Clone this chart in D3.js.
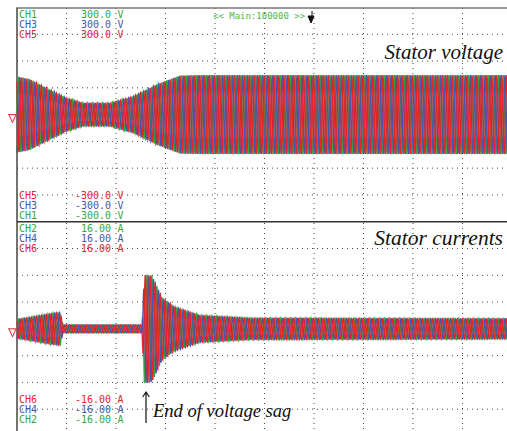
<!DOCTYPE html>
<html>
<head>
    <meta charset="UTF-8">
    <title>Stator voltage and currents</title>
    <script src="https://d3js.org/d3.v7.min.js"></script>
    <style>
        body { margin: 0; background: #fff; }
        .mono { font-family: "DejaVu Sans Mono", monospace; font-size: 10px; }
    </style>
</head>
<body>
    <div id="chart"></div>

    <script type="text/javascript">
        // time axis: 10 divisions, 2 s total (50 Hz grid)
        const timeRange = [0, 2];
        const carrierHz = 50;
        const voltRange = [-300, 300];
        const ampRange = [-16, 16];

        // envelope of the stator voltage (peak V)
        const voltEnvT = [0, 0.05, 0.133, 0.202, 0.267, 0.376, 0.469, 0.566, 0.606, 0.66, 0.74, 2.0];
        const voltEnvA = [107, 100, 70, 46, 32, 32, 51, 85, 96, 110, 111, 111];

        // envelope of the stator currents (peak A)
        const currEnvT = [0, 0.174, 0.186, 0.505, 0.515, 0.545, 0.586, 0.638, 0.739, 0.94, 2.0];
        const currEnvA = [1.4, 2.5, 0.6, 0.6, 8.1, 8.0, 4.7, 3.3, 2.0, 1.6, 1.5];

        // channel labels
        const voltChannels = ["CH1", "CH3", "CH5"];
        const currChannels = ["CH2", "CH4", "CH6"];
        const voltTopValues = ["300.0", "300.0", "300.0"];
        const voltBottomValues = ["-300.0", "-300.0", "-300.0"];
        const currTopValues = ["16.00", "16.00", "16.00"];
        const currBottomValues = ["-16.00", "-16.00", "-16.00"];
        const phaseShift = { CH1: 0, CH3: -2 * Math.PI / 3, CH5: 2 * Math.PI / 3,
                             CH2: 0, CH4: -2 * Math.PI / 3, CH6: 2 * Math.PI / 3 };

        const colors = { CH1: "#34a838", CH2: "#34a838", CH3: "#4656a8", CH4: "#4656a8",
                         CH5: "#e3242b", CH6: "#e3242b" };

        const serif = '"Liberation Serif", "Times New Roman", Times, serif';

        const W = 507, H = 431;
        const svg = d3.select("#chart").append("svg")
            .attr("width", W).attr("height", H);

        const x = d3.scaleLinear().domain(timeRange).range([17, 512]);
        const yV = d3.scaleLinear().domain(voltRange).range([221.7, 7.5]);
        const yI = d3.scaleLinear().domain(ampRange).range([436, 221.7]);

        // grid (dotted)
        const grid = svg.append("g").attr("stroke", "#444").attr("stroke-width", 1)
            .attr("stroke-dasharray", "1,4");
        x.ticks(10).slice(1).forEach(t => {
            grid.append("line").attr("x1", x(t)).attr("x2", x(t))
                .attr("y1", 8).attr("y2", H);
        });
        d3.range(-225, 300, 75).forEach(v => {
            grid.append("line").attr("x1", 17).attr("x2", W)
                .attr("y1", yV(v)).attr("y2", yV(v));
        });
        d3.range(-12, 16, 4).forEach(v => {
            grid.append("line").attr("x1", 17).attr("x2", W)
                .attr("y1", yI(v)).attr("y2", yI(v));
        });

        // frame
        svg.append("line").attr("x1", 17).attr("x2", W).attr("y1", 8).attr("y2", 8)
            .attr("stroke", "#777").attr("stroke-width", 1.5);
        svg.append("line").attr("x1", 17).attr("x2", 17).attr("y1", 7.5).attr("y2", H)
            .attr("stroke", "#444").attr("stroke-width", 1.5);
        svg.append("line").attr("x1", 17).attr("x2", W).attr("y1", 221.7).attr("y2", 221.7)
            .attr("stroke", "#333").attr("stroke-width", 1.5);

        // traces
        const voltEnv = d3.scaleLinear().domain(voltEnvT).range(voltEnvA).clamp(true);
        const currEnv = d3.scaleLinear().domain(currEnvT).range(currEnvA).clamp(true);
        const nSamples = 100 * 16;

        function trace(env, phase) {
            return d3.range(nSamples + 1).map(i => {
                const t = timeRange[0] + (timeRange[1] - timeRange[0]) * i / nSamples;
                return [t, env(t) * Math.sin(2 * Math.PI * carrierHz * t + phase)];
            });
        }

        const lineV = d3.line().x(d => x(d[0])).y(d => yV(d[1]));
        const lineI = d3.line().x(d => x(d[0])).y(d => yI(d[1]));

        const traces = svg.append("g").attr("fill", "none").attr("stroke-width", 1.4);
        voltChannels.forEach(ch => {
            traces.append("path").datum(trace(voltEnv, phaseShift[ch]))
                .attr("stroke", colors[ch]).attr("d", lineV);
        });
        currChannels.forEach(ch => {
            traces.append("path").datum(trace(currEnv, phaseShift[ch]))
                .attr("stroke", colors[ch]).attr("d", lineI);
        });

        // zero-level markers
        [yV(0), yI(0)].forEach(y0 => {
            svg.append("path")
                .attr("d", `M8,${y0}H17M9,${y0}L12.5,${y0 + 8}L16,${y0}`)
                .attr("fill", "none").attr("stroke", "#e3242b").attr("stroke-width", 1);
        });

        // channel labels
        function labelBlock(chs, vals, unit, yCenters) {
            chs.forEach((ch, i) => {
                const yb = yCenters[i] + 3.5;
                svg.append("text").attr("class", "mono").attr("x", 19).attr("y", yb)
                    .attr("fill", colors[ch]).text(ch);
                svg.append("text").attr("class", "mono").attr("x", 111).attr("y", yb)
                    .attr("text-anchor", "end").attr("fill", colors[ch]).text(vals[i]);
                svg.append("text").attr("class", "mono").attr("x", 117.5).attr("y", yb)
                    .attr("fill", colors[ch]).text(unit);
            });
        }
        labelBlock(voltChannels, voltTopValues, "V", [14, 24, 34]);
        labelBlock(voltChannels.slice().reverse(), voltBottomValues, "V", [195, 205, 215]);
        labelBlock(currChannels, currTopValues, "A", [228.8, 238.8, 248.8]);
        labelBlock(currChannels.slice().reverse(), currBottomValues, "A", [399.6, 409.6, 419.6]);

        // header
        svg.append("text").attr("class", "mono").style("font-size", "9px")
            .attr("x", 213).attr("y", 19).attr("fill", "#4cb84c")
            .text("<< Main:100000 >>");
        svg.append("path").attr("d", "M308,16L314,16L311,23Z M312,11V17")
            .attr("fill", "#111").attr("stroke", "#111").attr("stroke-width", 1);

        // titles
        function title(txt, xp, yp, anchor, size) {
            svg.append("text").attr("x", xp).attr("y", yp)
                .attr("text-anchor", anchor)
                .style("font-family", serif).style("font-style", "italic")
                .style("font-size", size + "px").attr("fill", "#111")
                .text(txt);
        }
        title("Stator voltage", 503, 59, "end", 21);
        title("Stator currents", 503, 245, "end", 21.5);

        // annotation
        svg.append("path").attr("d", "M146,423V392M142.7,397L146,392L149.3,397")
            .attr("fill", "none").attr("stroke", "#111").attr("stroke-width", 1.2);
        title("End of voltage sag", 153, 417, "start", 18.5);
    </script>
</body>
</html>
